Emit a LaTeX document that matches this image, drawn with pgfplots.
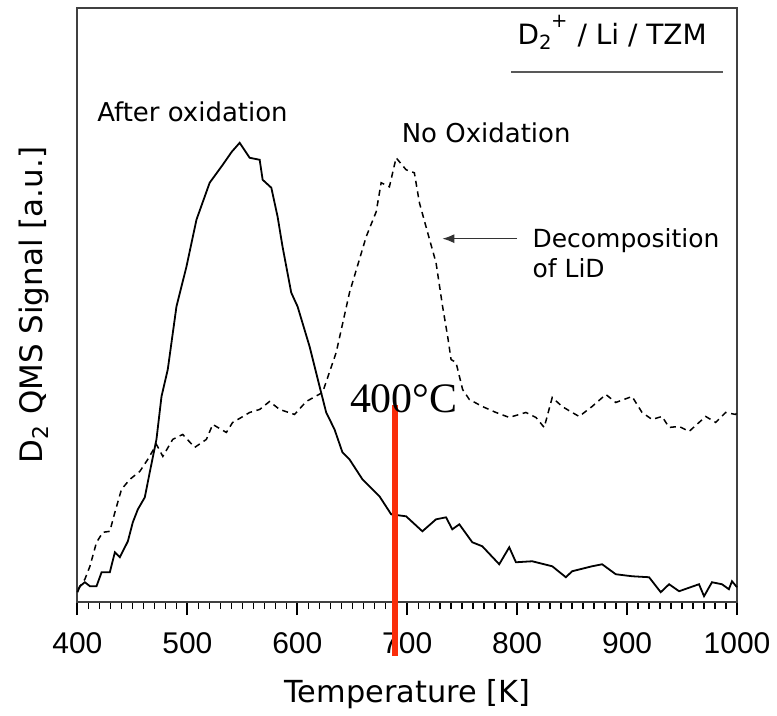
\documentclass[border=0pt]{standalone}
\usepackage{fontspec}
\setmainfont{DejaVu Sans}
\newfontfamily\arialfont{Liberation Sans}
\newfontfamily\timesfont{Liberation Serif}
\usepackage{pgfplots}
\pgfplotsset{compat=1.18}
\usetikzlibrary{arrows.meta, calc}
\definecolor{markred}{RGB}{250,45,10}

\begin{document}
\begin{tikzpicture}
\begin{axis}[
  scale only axis,
  width = 330.25pt,
  height = 297.5pt,
  xmin = 400, xmax = 1000,
  ymin = 0, ymax = 595,
  xtick = {400,500,...,1000},
  minor x tick num = 9,
  ytick = \empty,
  xtick pos = bottom,
  tick align = outside,
  major tick length = 6.5pt,
  minor tick length = 3.5pt,
  every major tick/.style = {black, line width=0.9pt},
  every minor tick/.style = {black, line width=0.7pt},
  axis line style = {black!75, line width=1pt},
  /pgf/number format/assume math mode=true,
  /pgf/number format/1000 sep={},
  xticklabel style = {font=\arialfont\fontsize{15}{18}\selectfont, yshift=-5pt},
  xlabel = {Temperature [K]},
  xlabel style = {font=\fontsize{15.2}{18}\selectfont, at={(axis description cs:0.5,-0.168)}, anchor=base},
  ylabel = {D\textsubscript{2} QMS Signal [a.u.]},
  ylabel style = {font=\fontsize{15.5}{18}\selectfont, at={(axis description cs:-0.066,0.5)}, anchor=center},
  clip = false,
]
% after oxidation (solid)
\addplot[black, line width=0.9pt] coordinates {
(400,10) (402.3,16) (406.8,20) (411.4,16) (417.4,16) (422,30) (429.5,30)
(434.1,50) (438.6,45) (445.9,61) (450.4,80) (455,93) (461.3,105) (465.8,130)
(471.9,163) (476.5,206) (482.2,233) (490.1,296) (499.2,336) (508.3,383)
(520.3,420) (532.2,438) (540.4,451) (547.6,460) (556.7,445) (565.8,443)
(568.5,423) (576.4,415) (582.1,386) (586.6,356) (594.5,310) (600.3,296)
(611.2,256) (620.3,216) (626.3,190) (633.9,173) (641.1,150) (647.5,143)
(659.3,123) (674.8,106) (685.4,88) (699,86) (713.8,71) (726.2,83) (735.3,85)
(741,73) (747.4,78) (759.2,60) (768.3,56) (783.7,38) (792.8,55) (798.9,40)
(813.7,41) (831.9,36) (844.3,25) (850,31) (868.2,36) (877.3,38) (889.7,28)
(904.5,26) (920,25) (930.6,10) (938.2,18) (947.3,11) (965.4,18) (970,6)
(977.2,20) (986.3,18) (992.6,13) (995.4,21) (1000,15)
};
% no oxidation (dashed)
\addplot[black, line width=0.75pt, dash pattern=on 3pt off 2.3pt] coordinates {
(400.7,13) (406.8,23) (411.4,36) (417.4,60) (423.2,70) (429.5,71) (434.1,90)
(440.1,113) (447.7,123) (456.8,131) (464,143) (471.9,158) (477.7,146)
(486.7,163) (495.8,168) (506.7,155) (517.3,163) (523.1,178) (535.5,170)
(541.2,180) (549.1,185) (556.7,190) (565.8,193) (574.8,201) (583.9,193)
(597.5,188) (608.2,201) (623,210) (635.4,250) (647.5,310) (662.7,366)
(671.8,391) (676.3,420) (683.8,416) (689.9,445) (699,433) (706.5,430)
(711.1,400) (718.6,370) (726.2,340) (732.2,296) (736.8,266) (739.9,243)
(744.4,240) (750.4,213) (756.5,203) (768.3,196) (780.7,190) (792.8,185)
(808,190) (817.1,185) (824.6,175) (831.9,205) (840.9,196) (850,190)
(856.4,186) (868.2,196) (880.7,208) (889.7,200) (904.5,206) (913.6,190)
(922.7,183) (931.8,186) (938.2,175) (947.3,176) (956.4,171) (971.5,186)
(980.6,180) (989.6,190) (998.7,188) (1000,190)
};
% 400 C marker
\addplot[markred, line width=3pt] coordinates {(689,197) (689,-54)};

\node[anchor=base west, inner sep=0pt, font=\fontsize{13}{16}\selectfont] at (axis cs:417.7,481) {After oxidation};
\node[anchor=base west, inner sep=0pt, font=\fontsize{13}{16}\selectfont] at (axis cs:694.7,460) {No Oxidation};
\node[anchor=base west, inner sep=0pt, font=\fontsize{12.5}{16}\selectfont] at (axis cs:813.7,355) {Decomposition};
\node[anchor=base west, inner sep=0pt, font=\fontsize{12.5}{16}\selectfont] at (axis cs:813.7,325) {of LiD};
\draw[black!80, line width=0.8pt, -{Latex[length=6pt, width=4.5pt]}] (axis cs:800,364) -- (axis cs:731.9,364);
\node[anchor=base west, inner sep=0pt, font=\fontsize{14}{16}\selectfont] at (axis cs:800.1,558) {D\textsubscript{2}\kern-0.05em\raisebox{0.25em}{\textsuperscript{+}} / Li / TZM};
\draw[black!65, line width=1.2pt] (axis cs:794.6,531) -- (axis cs:987.3,531);
\node[anchor=base west, inner sep=0pt, font=\timesfont\fontsize{21}{24}\selectfont] at (axis cs:647.6,190) {400°C};
\end{axis}
\path ($(current axis.south west)+(-38.75pt,-53pt)$) rectangle ($(current axis.north east)+(19.5pt,4pt)$);
\end{tikzpicture}
\end{document}
